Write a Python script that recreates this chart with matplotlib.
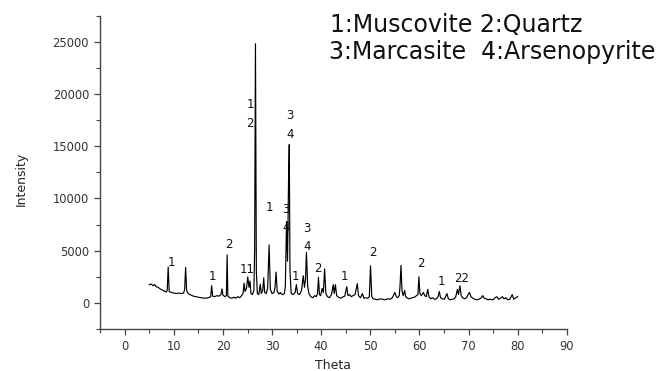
import matplotlib
matplotlib.use("Agg")
import matplotlib.pyplot as plt
from matplotlib.ticker import MultipleLocator

# XRD pattern (2-theta in degrees, intensity in counts)
theta = [5.0, 5.4, 5.8, 6.1, 6.4, 6.8, 7.2, 7.6, 8.0, 8.5, 8.65, 8.85, 9.05, 9.5,
         10.0, 10.5, 11.0, 11.5, 12.0, 12.2, 12.4, 12.6, 12.9, 13.5, 14.0, 14.5,
         15.0, 15.5, 16.0, 16.5, 17.0, 17.5, 17.7, 17.9, 18.3, 18.8, 19.2, 19.6,
         19.8, 20.0, 20.4, 20.7, 20.85, 21.0, 21.4, 21.8, 22.2, 22.6, 23.0, 23.4,
         23.8, 24.1, 24.3, 24.5, 24.8, 25.05, 25.3, 25.5, 25.7, 26.0, 26.3, 26.45,
         26.62, 26.8, 27.0, 27.3, 27.6, 27.8, 28.1, 28.3, 28.5, 28.8, 29.1, 29.4,
         29.65, 30.0, 30.4, 30.6, 30.82, 31.05, 31.4, 31.7, 31.9, 32.2, 32.5, 32.7,
         32.95, 33.15, 33.35, 33.5, 33.65, 33.9, 34.3, 34.7, 34.95, 35.2, 35.6,
         36.0, 36.35, 36.6, 36.8, 37.0, 37.25, 37.5, 37.9, 38.3, 38.7, 39.0, 39.25,
         39.45, 39.65, 39.9, 40.2, 40.45, 40.7, 40.95, 41.3, 41.7, 42.1, 42.45,
         42.65, 42.9, 43.15, 43.5, 44.0, 44.5, 44.8, 45.2, 45.45, 45.8, 46.1, 46.5,
         46.9, 47.35, 47.6, 48.0, 48.4, 48.7, 49.1, 49.5, 49.8, 50.05, 50.3, 50.6,
         51.0, 51.5, 52.0, 52.5, 53.0, 53.5, 54.0, 54.4, 54.7, 55.0, 55.3, 55.6,
         55.9, 56.05, 56.25, 56.45, 56.7, 57.0, 57.2, 57.6, 58.0, 58.5, 59.0, 59.4,
         59.7, 59.9, 60.1, 60.4, 60.8, 61.1, 61.4, 61.7, 61.95, 62.3, 62.7, 63.1,
         63.5, 63.8, 64.05, 64.3, 64.7, 65.1, 65.6, 65.9, 66.3, 66.7, 67.1, 67.4,
         67.75, 67.95, 68.25, 68.5, 68.8, 69.2, 69.6, 69.9, 70.2, 70.5, 70.9, 71.3,
         71.8, 72.3, 72.6, 72.9, 73.2, 73.6, 74.0, 74.5, 75.0, 75.4, 75.8, 76.1,
         76.5, 76.9, 77.2, 77.6, 78.0, 78.4, 78.9, 79.2, 79.6, 80.0]
intensity = [1750, 1800, 1650, 1750, 1550, 1500, 1350, 1250, 1150, 1050, 1200, 3450, 1100, 1000,
             950, 900, 950, 900, 950, 1300, 3400, 1200, 900, 750, 650, 600,
             550, 500, 480, 450, 500, 600, 1650, 650, 600, 700, 650, 800,
             1350, 750, 600, 700, 4600, 650, 500, 450, 550, 450, 600, 500,
             700, 900, 1900, 1100, 1400, 2500, 1500, 2100, 900, 800, 1200, 5000,
             24800, 3000, 900, 800, 1800, 900, 1200, 2400, 1000, 900, 1400, 5550,
             1300, 900, 1000, 1500, 2950, 1100, 850, 1000, 850, 800, 900, 1600,
             7800, 4000, 11500, 15150, 3000, 900, 800, 1000, 1750, 900, 800,
             1200, 2600, 1500, 2200, 4850, 1600, 900, 600, 500, 700, 600, 900,
             2450, 800, 700, 1400, 1000, 3250, 900, 600, 500, 800, 1750,
             900, 1750, 700, 550, 450, 600, 650, 1550, 700, 800, 600, 700,
             800, 1850, 700, 500, 900, 450, 500, 450, 600, 3550, 600, 400,
             350, 300, 400, 350, 300, 400, 350, 450, 700, 1000, 600, 500,
             700, 1600, 3600, 1200, 700, 1200, 600, 450, 400, 500, 550, 700,
             800, 2500, 900, 700, 1000, 700, 600, 1300, 600, 400, 500, 350,
             400, 600, 1100, 500, 400, 350, 900, 400, 300, 350, 400, 600,
             1300, 800, 1650, 700, 500, 400, 500, 800, 1000, 600, 450, 350,
             300, 400, 500, 700, 450, 400, 300, 350, 300, 500, 600, 350,
             450, 600, 400, 500, 300, 350, 800, 350, 500, 600]

# Phase labels placed over peaks (text, theta, intensity)
label_text = ["1", "1", "2", "11", "1\n2", "1", "3\n4", "3\n4", "1", "3\n4",
              "2", "1", "2", "2", "1", "22"]
label_theta = [9.6, 17.9, 21.2, 24.9, 25.5, 29.5, 32.8, 33.6, 34.85, 37.1,
               39.3, 44.8, 50.5, 60.3, 64.4, 68.5]
label_int = [3850, 2500, 5580, 3170, 18100, 9130, 8100, 17050, 2500, 6250,
             3270, 2500, 4800, 3750, 2020, 2300]

legend_lines = ["1:Muscovite 2:Quartz", "3:Marcasite  4:Arsenopyrite"]

plt.rcParams['font.family'] = ['DejaVu Sans']
fig = plt.figure(figsize=(6.59, 3.71), dpi=100)
ax = fig.add_axes([0.152, 0.113, 0.708, 0.845])

ax.plot(theta, intensity, color='black', lw=0.85)

for t, x, y in zip(label_text, label_theta, label_int):
    ax.text(x, y, t, ha='center', va='center', fontsize=8.5, color='#111111',
            linespacing=1.55)

ax.set_xlim(-5, 90)
ax.set_ylim(-2500, 27500)
ax.xaxis.set_major_locator(MultipleLocator(10))
ax.xaxis.set_minor_locator(MultipleLocator(5))
ax.yaxis.set_major_locator(MultipleLocator(5000))
ax.yaxis.set_minor_locator(MultipleLocator(2500))

for s in ['top', 'right']:
    ax.spines[s].set_visible(False)
for s in ['left', 'bottom']:
    ax.spines[s].set_color('#444444')
    ax.spines[s].set_linewidth(1.0)

ax.tick_params(which='major', direction='out', length=4.5, width=0.9,
               color='#444444', labelsize=8.3, labelcolor='#333333', pad=3.5)
ax.tick_params(which='minor', direction='out', length=2.8, width=0.8,
               color='#444444')

ax.set_xlabel('Theta', fontsize=9, color='#222222')
ax.set_ylabel('Intensity', fontsize=9, color='#222222')
ax.xaxis.set_label_coords(0.5, -0.096)
ax.yaxis.set_label_coords(-0.155, 0.48)

fig.text(330 / 659, 1 - 25 / 371, legend_lines[0], fontsize=17, ha='left',
         va='center', color='#111111')
fig.text(329 / 659, 1 - 52 / 371, legend_lines[1], fontsize=17, ha='left',
         va='center', color='#111111')

fig.savefig('out.png', dpi=100)
